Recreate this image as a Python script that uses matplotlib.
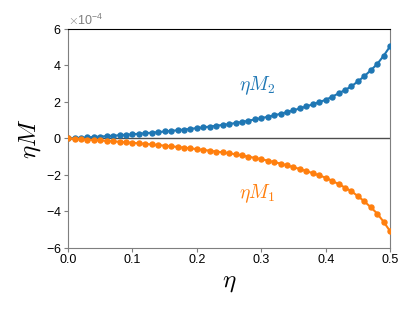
# eta*M1 and eta*M2 versus eta

import numpy as np
import matplotlib
matplotlib.use('Agg')
import matplotlib.pyplot as plt

plt.rcParams['font.family'] = ['Liberation Sans', 'DejaVu Sans']
plt.rcParams['mathtext.fontset'] = 'cm'

eta = [i / 100 for i in range(51)]

# values in units of 1e-4
eta_m2 = [0.000, 0.019, 0.040, 0.061, 0.082, 0.105, 0.128, 0.153, 0.178, 0.203,
          0.230, 0.259, 0.288, 0.319, 0.350, 0.383, 0.416, 0.452, 0.490, 0.528,
          0.568, 0.609, 0.653, 0.697, 0.744, 0.790, 0.848, 0.910, 0.974, 1.044,
          1.116, 1.190, 1.270, 1.353, 1.448, 1.547, 1.649, 1.758, 1.873, 1.993,
          2.120, 2.288, 2.470, 2.657, 2.860, 3.128, 3.413, 3.737, 4.080, 4.533,
          5.050]
eta_m1 = [0.000, -0.020, -0.041, -0.063, -0.085, -0.108, -0.132, -0.157, -0.183, -0.209,
          -0.237, -0.266, -0.296, -0.328, -0.360, -0.394, -0.428, -0.465, -0.503, -0.542,
          -0.583, -0.625, -0.669, -0.714, -0.761, -0.808, -0.866, -0.929, -0.994, -1.064,
          -1.137, -1.212, -1.293, -1.377, -1.473, -1.572, -1.675, -1.785, -1.901, -2.022,
          -2.150, -2.318, -2.500, -2.689, -2.893, -3.160, -3.446, -3.770, -4.113, -4.568,
          -5.080]

blue = '#1f77b4'
orange = '#ff7f0e'
gray = '#7f7f7f'

fig = plt.figure(figsize=(4.15, 3.11), dpi=100)
ax = fig.add_axes([0.164, 0.2026, 0.776, 0.7042])

ax.axhline(0, color='#4d4d4d', lw=1.0, zorder=1)
ax.plot(eta, np.array(eta_m2) * 1e-4, '-o', color=blue, lw=1.5, ms=3.6, zorder=3)
ax.plot(eta, np.array(eta_m1) * 1e-4, '-o', color=orange, lw=1.5, ms=3.6, zorder=3)

ax.set_xlim(0, 0.5)
ax.set_ylim(-6e-4, 6e-4)
ax.set_xticks([0.0, 0.1, 0.2, 0.3, 0.4, 0.5])
ax.set_yticks([-6e-4, -4e-4, -2e-4, 0, 2e-4, 4e-4, 6e-4])
ax.ticklabel_format(axis='y', style='sci', scilimits=(0, 0), useMathText=True)
ax.yaxis.get_offset_text().set_color(gray)
ax.yaxis.get_offset_text().set_fontsize(9)
ax.tick_params(labelsize=9, length=3, width=0.8, color=gray, pad=1.5)

for side in ['left', 'bottom', 'right']:
    ax.spines[side].set_color(gray)
ax.spines['top'].set_color('black')

ax.set_xlabel(r'$\eta$', fontsize=18, labelpad=3)
ax.set_ylabel(r'$\eta M$', fontsize=18, labelpad=2)

ax.text(0.294, 2.9e-4, r'$\eta M_2$', color=blue, fontsize=14, ha='center', va='center')
ax.text(0.294, -3.0e-4, r'$\eta M_1$', color=orange, fontsize=14, ha='center', va='center')

fig.savefig('out.png', dpi=100)
